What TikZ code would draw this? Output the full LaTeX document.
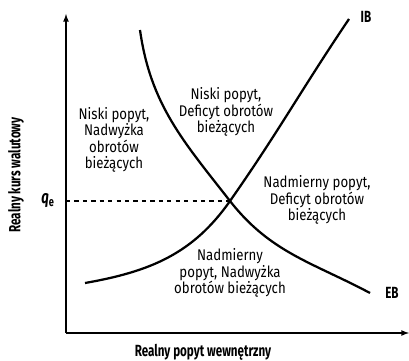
\documentclass[tikz,border=0pt]{standalone}
\usepackage{fontspec}
\setmainfont{Fira Sans}[FakeStretch=0.855]
\newfontfamily\axisfont{Fira Sans}[FakeStretch=0.72]
\usepackage{tikz}

\begin{document}
\begin{tikzpicture}[>=latex,thick]
\useasboundingbox (0,0) rectangle (10.225,9);
\tikzset{area/.style={align=center,font=\fontsize{11}{11.6}\selectfont},
  curve/.style={line width=1.6pt},
  axislabel/.style={font=\axisfont\fontsize{11.5}{14}\selectfont\bfseries}}
\coordinate (O) at (1.65,0.675);
\coordinate (Ytip) at (1.65,8.65);
\coordinate (Xtip) at (10.225,0.675);
\coordinate (E) at (5.75,3.975);
\coordinate (Qe) at (1.65,3.975);
\coordinate (IBa) at (2.125,1.925);
\coordinate (IBb) at (8.725,8.525);
\coordinate (EBa) at (3.5,8.25);
\coordinate (EBb) at (9.25,1.675);
\draw[->,line width=0.9pt] (O) -- (Ytip);
\draw[->,line width=0.9pt] (O) -- (Xtip);
\draw[dashed,line width=0.8pt] (Qe) -- (E);
\draw[curve] (IBa) to[out=10,in=-125] (E) to[out=55,in=-124] (IBb);
\draw[curve] (EBa) to[out=-82,in=128] (E) to[out=-52,in=152] (EBb);
\node[axislabel] (ib) at (9.15,8.575) {IB};
\node[axislabel] (eb) at (9.8,1.675) {EB};
\node[axislabel,left,font=\axisfont\fontsize{13}{14}\selectfont\bfseries] (qe) at (1.5,3.975) {\itshape q\textsubscript{\upshape e}};
\node[axislabel,rotate=90] (ylab) at (0.4,4.625) {Realny kurs walutowy};
\node[axislabel] (xlab) at (5.075,0.2) {Realny popyt wewnętrzny};
\node[area] (A) at (2.85,5.5) {Niski popyt,\\Nadwyżka\\obrotów\\bieżących};
\node[area] (B) at (5.65,6.2) {Niski popyt,\\Deficyt obrotów\\bieżących};
\node[area] (C) at (7.925,4.0) {Nadmierny popyt,\\Deficyt obrotów\\bieżących};
\node[area] (D) at (5.75,2.175) {Nadmierny\\popyt, Nadwyżka\\obrotów bieżących};
\end{tikzpicture}
\end{document}
